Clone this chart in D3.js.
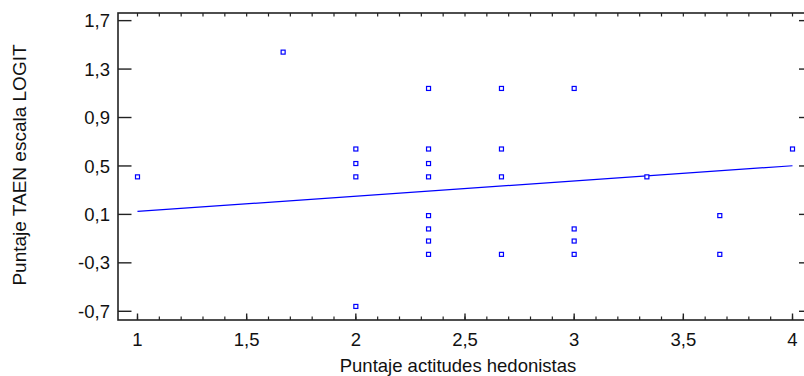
<!DOCTYPE html>
<html>
<head>
<meta charset="utf-8">
<script src="https://cdn.jsdelivr.net/npm/d3@7"></script>
<style>
  html, body { margin: 0; padding: 0; background: #fff; }
  svg { display: block; }
  text { font-family: "Liberation Sans", Arial, sans-serif; fill: #111; }
</style>
</head>
<body>
<svg id="chart" width="804" height="376"></svg>
<script>
// Observations: hedonic attitude score vs. TAEN logit score
const hedonic = [
  1,
  1.667,
  2, 2, 2, 2,
  2.333, 2.333, 2.333, 2.333, 2.333, 2.333, 2.333, 2.333,
  2.667, 2.667, 2.667, 2.667,
  3, 3, 3, 3,
  3.333,
  3.667, 3.667,
  4
];
const logit = [
  0.41,
  1.44,
  0.64, 0.52, 0.41, -0.66,
  1.14, 0.64, 0.52, 0.41, 0.09, -0.02, -0.12, -0.23,
  1.14, 0.64, 0.41, -0.23,
  1.14, -0.02, -0.12, -0.23,
  0.41,
  0.09, -0.23,
  0.64
];

// Fitted linear model
const fitIntercept = -0.001;
const fitSlope = 0.1257;
const fitRange = [1, 4];

// Axis ticks and labels
const xTicks = [1, 1.5, 2, 2.5, 3, 3.5, 4];
const xLabels = ["1", "1,5", "2", "2,5", "3", "3,5", "4"];
const xMinorTicks = d3.range(10, 41).map(d => d / 10);
const yTicks = [-0.7, -0.3, 0.1, 0.5, 0.9, 1.3, 1.7];
const yLabels = ["-0,7", "-0,3", "0,1", "0,5", "0,9", "1,3", "1,7"];

const xTitle = "Puntaje actitudes hedonistas";
const yTitle = "Puntaje TAEN escala LOGIT";

const svg = d3.select("#chart");
const plotL = 118, plotR = 806, plotT = 13, plotB = 320;

const x = d3.scaleLinear().domain([0.9107, 4.0618]).range([plotL, plotR]);
const y = d3.scaleLinear().domain([-0.772, 1.763]).range([plotB, plotT]);

const axisColor = "#222";
const fontSize = "18.5px";

// Frame
svg.append("rect")
  .attr("x", plotL).attr("y", plotT)
  .attr("width", plotR - plotL).attr("height", plotB - plotT)
  .attr("fill", "none").attr("stroke", axisColor).attr("stroke-width", 1.6);

// Bottom axis: inward major and minor ticks
const bottomAxis = svg.append("g");
bottomAxis.selectAll("line.minor").data(xMinorTicks).join("line")
  .attr("class", "minor")
  .attr("x1", d => x(d)).attr("x2", d => x(d))
  .attr("y1", plotB).attr("y2", plotB - 3.5)
  .attr("stroke", axisColor).attr("stroke-width", 1.2);
bottomAxis.selectAll("line.major").data(xTicks).join("line")
  .attr("class", "major")
  .attr("x1", d => x(d)).attr("x2", d => x(d))
  .attr("y1", plotB).attr("y2", plotB - 6.5)
  .attr("stroke", axisColor).attr("stroke-width", 1.4);
bottomAxis.selectAll("text").data(xTicks).join("text")
  .attr("x", d => x(d)).attr("y", 346)
  .attr("text-anchor", "middle")
  .style("font-size", fontSize)
  .text((d, i) => xLabels[i]);

// Top axis: minor ticks only
svg.append("g").selectAll("line").data(xMinorTicks).join("line")
  .attr("x1", d => x(d)).attr("x2", d => x(d))
  .attr("y1", plotT).attr("y2", plotT + 3.5)
  .attr("stroke", axisColor).attr("stroke-width", 1.2);

// Left axis
const leftAxis = svg.append("g");
leftAxis.selectAll("line").data(yTicks).join("line")
  .attr("x1", plotL).attr("x2", plotL + 13.5)
  .attr("y1", d => y(d)).attr("y2", d => y(d))
  .attr("stroke", axisColor).attr("stroke-width", 1.4);
leftAxis.selectAll("text").data(yTicks).join("text")
  .attr("x", 110).attr("y", d => y(d))
  .attr("dy", "0.36em")
  .attr("text-anchor", "end")
  .style("font-size", fontSize)
  .text((d, i) => yLabels[i]);

// Right axis
svg.append("g").selectAll("line").data(yTicks).join("line")
  .attr("x1", plotR).attr("x2", plotR - 7)
  .attr("y1", d => y(d)).attr("y2", d => y(d))
  .attr("stroke", axisColor).attr("stroke-width", 1.4);

// Axis titles
svg.append("text")
  .attr("x", 458).attr("y", 372)
  .attr("text-anchor", "middle")
  .style("font-size", fontSize)
  .text(xTitle);
svg.append("text")
  .attr("transform", "translate(26,165) rotate(-90)")
  .attr("text-anchor", "middle")
  .style("font-size", "19px")
  .text(yTitle);

// Regression line
svg.append("line")
  .attr("x1", x(fitRange[0])).attr("y1", y(fitIntercept + fitSlope * fitRange[0]))
  .attr("x2", x(fitRange[1])).attr("y2", y(fitIntercept + fitSlope * fitRange[1]))
  .attr("stroke", "#0000ff").attr("stroke-width", 1.2);

// Observation markers
const pts = hedonic.map((h, i) => ({ h, v: logit[i] }));
svg.append("g").selectAll("rect").data(pts).join("rect")
  .attr("x", d => x(d.h) - 2)
  .attr("y", d => y(d.v) - 2)
  .attr("width", 4).attr("height", 4)
  .attr("fill", "#fff")
  .attr("stroke", "#0000ff")
  .attr("stroke-width", 1.2);
</script>
</body>
</html>
